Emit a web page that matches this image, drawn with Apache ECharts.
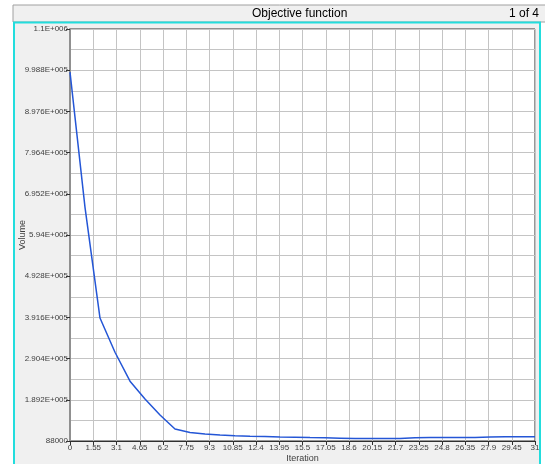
<!DOCTYPE html>
<html>
<head>
<meta charset="utf-8">
<script src="https://cdn.jsdelivr.net/npm/echarts@6/dist/echarts.min.js"></script>
<style>
  html, body { margin: 0; padding: 0; background: #ffffff; }
  #chart { width: 545px; height: 464px; }
</style>
</head>
<body>
<div id="chart"></div>
<script>
  // iteration numbers and objective values
  var iterations = [0, 1, 2, 3, 4, 5, 6, 7, 8, 9, 10, 11, 12, 13, 14, 15, 16, 17, 18, 19, 20, 21, 22, 23, 24, 25, 26, 27, 28, 29, 30, 31];
  var volume = [994000, 662000, 390000, 306000, 235000, 191000, 152000, 117500, 109000, 105200, 102700, 100800, 99800, 99000,
    98000, 97500, 96500, 96000, 95000, 94000, 94000, 94000, 94000, 96000, 96500, 96500, 96500, 96800, 98000, 98500, 98500, 98500];
  var yMin = 88000, yMax = 1100000, yStep = 101200;
  var xMin = 0, xMax = 31, xStep = 1.55;

  var chartTitle = 'Objective function';
  var pageText = '1 of 4';

  function sci(v) {
    if (v < 100000) return String(Math.round(v));
    var e = Math.floor(Math.log10(v));
    var m = parseFloat((v / Math.pow(10, e)).toPrecision(4));
    var es = String(e);
    while (es.length < 3) es = '0' + es;
    return m + 'E+' + es;
  }

  var myChart = echarts.init(document.getElementById('chart'));
  var font = '"Liberation Sans", Arial, sans-serif';
  var option = {
    animation: false,
    backgroundColor: '#ffffff',
    graphic: [
      // title bar
      { type: 'rect', z: -10, shape: { x: 13, y: 5, width: 540, height: 17 },
        style: { fill: '#f0f0f0', stroke: '#a0a0a0', lineWidth: 1 } },
      // cyan panel
      { type: 'rect', z: -10, shape: { x: 14, y: 22.5, width: 526, height: 450 },
        style: { fill: '#f0f0f0', stroke: '#22dddd', lineWidth: 2 } },
      { type: 'text', left: 252, top: 8,
        style: { text: chartTitle, font: '12px ' + font, fill: '#000000' } },
      { type: 'text', right: 6, top: 8,
        style: { text: pageText, font: '12px ' + font, fill: '#000000' } }
    ],
    grid: {
      left: 70, right: 10, top: 29, bottom: 23,
      outerBoundsMode: 'none',
      show: true, backgroundColor: '#ffffff', borderColor: '#303030', borderWidth: 1
    },
    xAxis: {
      type: 'value', min: xMin, max: xMax, interval: xStep,
      name: 'Iteration', nameLocation: 'middle', nameGap: 13, nameMoveOverlap: false,
      nameTextStyle: { fontFamily: font, fontSize: 9, color: '#404040' },
      axisLine: { lineStyle: { color: '#303030', width: 1 } },
      axisTick: { show: true, length: 4, lineStyle: { color: '#303030' } },
      axisLabel: { fontFamily: font, fontSize: 8, color: '#404040', margin: 3 },
      splitLine: { show: true, lineStyle: { color: '#c4c4c4', width: 1 } }
    },
    yAxis: {
      type: 'value', min: yMin, max: yMax, interval: yStep,
      name: 'Volume', nameLocation: 'middle', nameGap: 43, nameRotate: 90, nameMoveOverlap: false,
      nameTextStyle: { fontFamily: font, fontSize: 9, color: '#404040' },
      axisLine: { show: true, lineStyle: { color: '#909090', width: 2 } },
      axisTick: { show: true, length: 4, lineStyle: { color: '#303030' } },
      axisLabel: { fontFamily: font, fontSize: 8, color: '#404040', margin: 2, formatter: sci },
      splitLine: { show: true, lineStyle: { color: '#c4c4c4', width: 1 } },
      minorTick: { show: false, splitNumber: 2 },
      minorSplitLine: { show: true, lineStyle: { color: '#c4c4c4', width: 1 } }
    },
    series: [{
      type: 'line',
      data: iterations.map(function (it, i) { return [it, volume[i]]; }),
      showSymbol: false,
      lineStyle: { color: '#2456d6', width: 1.5 }
    }]
  };
  myChart.setOption(option);
</script>
</body>
</html>
